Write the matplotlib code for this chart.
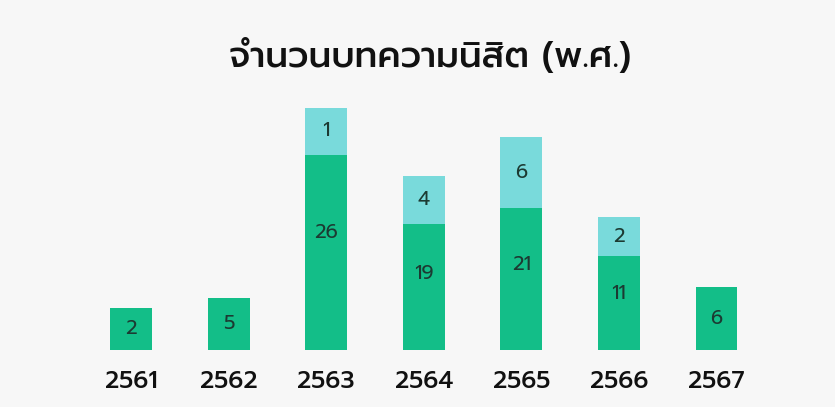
import matplotlib
matplotlib.use('Agg')
from matplotlib import pyplot as plt

# data
years = ['2561', '2562', '2563', '2564', '2565', '2566', '2567']
main_counts = [2, 5, 26, 19, 21, 11, 6]
extra_counts = [0, 0, 1, 4, 6, 2, 0]
# bar lengths as drawn in the original graphic (not to scale with the counts)
main_drawn = [4.2, 5.2, 19.5, 12.6, 14.2, 9.4, 6.3]
extra_drawn = [0, 0, 4.7, 4.8, 7.1, 3.9, 0]

green = '#13be88'
cyan = '#79dadb'
bg = '#f7f7f7'
label_col = '#1c3a32'
font = 'Prompt'

fig = plt.figure(figsize=(8.35, 4.07), dpi=100, facecolor=bg)
ax = fig.add_axes([0, 0, 1, 1])
ax.set_facecolor(bg)
ax.set_xlim(-1.3425, 7.2145)
ax.set_ylim(-5.7, 35.0)
ax.axis('off')

x = list(range(len(years)))
ax.bar(x, main_drawn, width=0.43, color=green)
ax.bar(x, extra_drawn, width=0.43, bottom=main_drawn, color=cyan)

for i in x:
    if extra_counts[i] > 0:
        ymid = main_drawn[i] * 0.6
    else:
        ymid = main_drawn[i] / 2
    ax.text(i, ymid, str(main_counts[i]), ha='center', va='center',
            fontsize=14.5, color=label_col, family=font)
    if extra_counts[i] > 0:
        ax.text(i, main_drawn[i] + extra_drawn[i] / 2, str(extra_counts[i]),
                ha='center', va='center', fontsize=14.5, color=label_col,
                family=font)
    ax.text(i, -3.1, years[i], ha='center', va='center', fontsize=17.5,
            color='#111111', family=font, fontweight='medium')

fig.text(430 / 835, 1 - 57 / 407, 'จำนวนบทความนิสิต (พ.ศ.)', ha='center',
         va='center', fontsize=25.8, color='#111111', family=font,
         fontweight='medium')

fig.savefig('out.png', dpi=100, facecolor=bg)
